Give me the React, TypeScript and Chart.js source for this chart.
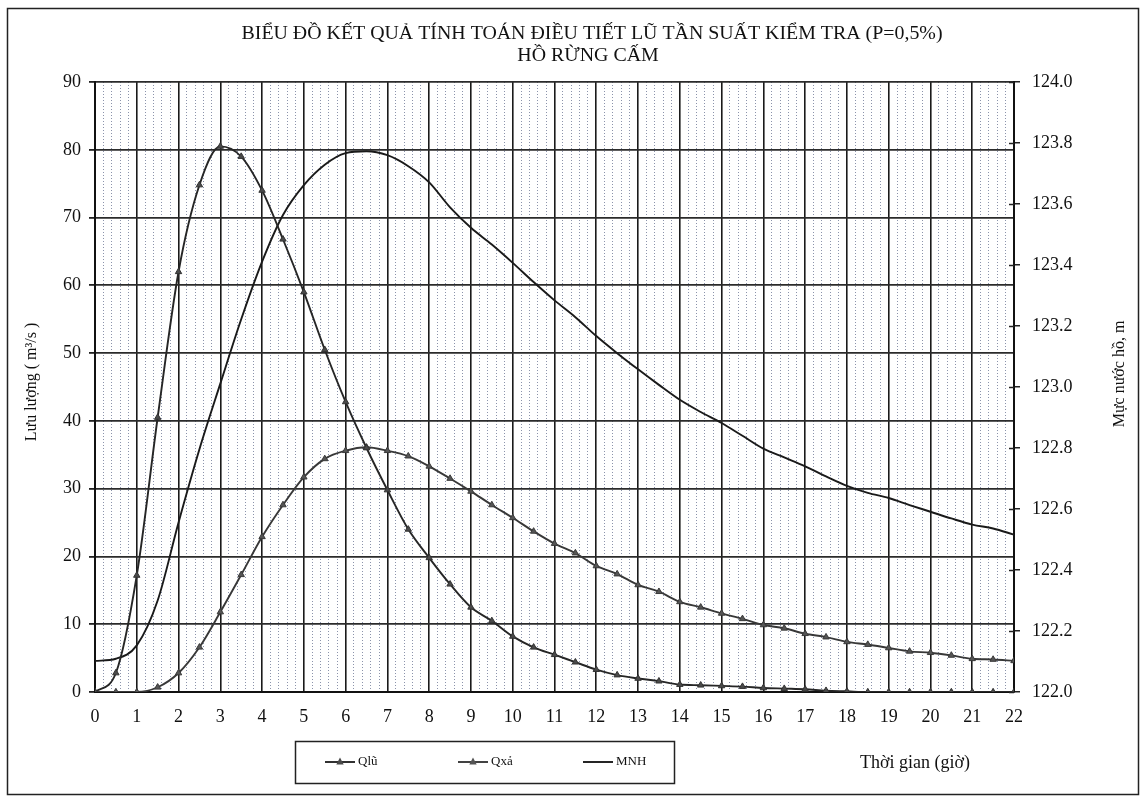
import React, { useEffect, useRef } from 'react';
import { Chart, registerables } from 'chart.js';

Chart.register(...registerables);

// ---- data (time in hours, flows in m3/s, water level in m) ----
const TIMES = [
  0, 0.5, 1, 1.5, 2, 2.5, 3, 3.5, 4, 4.5, 5, 5.5, 6, 6.5, 7, 7.5, 8, 8.5, 9, 9.5, 10, 10.5,
  11, 11.5, 12, 12.5, 13, 13.5, 14, 14.5, 15, 15.5, 16, 16.5, 17, 17.5, 18, 18.5, 19, 19.5,
  20, 20.5, 21, 21.5, 22,
];

const Q_LU = [
  0, 2.8, 17.2, 40.5, 62, 74.8, 80.5, 79, 74, 66.8, 59, 50.5, 42.8, 36, 29.8, 24, 19.8, 15.9,
  12.5, 10.5, 8.2, 6.6, 5.5, 4.4, 3.3, 2.5, 2.0, 1.6, 1.1, 1.0, 0.9, 0.8, 0.6, 0.5, 0.4, 0.2,
  0.1, 0, 0, 0, 0, 0, 0, 0, 0,
];

const Q_XA = [
  0, 0, 0, 0.7, 2.8, 6.6, 11.8, 17.3, 22.9, 27.6, 31.7, 34.4, 35.6, 36.1, 35.6, 34.8, 33.3,
  31.5, 29.6, 27.6, 25.7, 23.7, 21.9, 20.5, 18.6, 17.4, 15.8, 14.8, 13.3, 12.5, 11.6, 10.8,
  9.9, 9.4, 8.6, 8.1, 7.4, 7.0, 6.5, 6.0, 5.8, 5.4, 4.9, 4.8, 4.6,
];

const MNH = [
  122.102, 122.109, 122.153, 122.3, 122.556, 122.796, 123.011, 123.222, 123.411, 123.564,
  123.662, 123.729, 123.767, 123.773, 123.76, 123.724, 123.671, 123.589, 123.522, 123.467,
  123.407, 123.344, 123.284, 123.229, 123.167, 123.111, 123.058, 123.007, 122.958, 122.918,
  122.882, 122.84, 122.798, 122.769, 122.74, 122.707, 122.676, 122.653, 122.636, 122.613,
  122.591, 122.569, 122.549, 122.536, 122.516,
];

const SERIES_NAMES = ['Qlũ', 'Qxả', 'MNH'];
const TITLE_LINES = [
  'BIỂU ĐỒ KẾT QUẢ TÍNH TOÁN ĐIỀU TIẾT LŨ TẦN SUẤT KIỂM TRA (P=0,5%)',
  'HỒ RỪNG CẤM',
];
const Y_LEFT_TITLE = 'Lưu lượng ( m³/s )';
const Y_RIGHT_TITLE = 'Mực nước hồ, m';
const X_TITLE = 'Thời gian (giờ)';

const SERIF = '"Liberation Serif", "Times New Roman", serif';

const decorPlugin = {
  id: 'decor',
  beforeDraw(chart: any) {
    const ctx = chart.ctx;
    ctx.save();
    ctx.fillStyle = '#ffffff';
    ctx.fillRect(0, 0, chart.width, chart.height);
    ctx.restore();
  },
  afterDraw(chart: any) {
    const ctx = chart.ctx;
    ctx.save();
    // outer frame
    ctx.strokeStyle = '#222';
    ctx.lineWidth = 1.5;
    ctx.strokeRect(7.5, 8.5, 1131, 786);

    // inner half of the right-axis tick marks (they cross the axis)
    const yR = chart.scales.yR;
    ctx.strokeStyle = '#222';
    ctx.lineWidth = 1.5;
    yR.ticks.forEach((t: any) => {
      const y = Math.round(yR.getPixelForValue(t.value)) + 0.5;
      ctx.beginPath();
      ctx.moveTo(yR.left - 5, y);
      ctx.lineTo(yR.left, y);
      ctx.stroke();
    });

    // titles (condensed serif)
    ctx.fillStyle = '#111';
    ctx.font = `18px ${SERIF}`;
    ctx.textAlign = 'center';
    ctx.textBaseline = 'middle';
    const w1 = ctx.measureText(TITLE_LINES[0]).width;
    const sx = 701 / w1;
    ctx.save();
    ctx.translate(592, 34);
    ctx.scale(sx, 1);
    ctx.fillText(TITLE_LINES[0], 0, 0);
    ctx.restore();
    ctx.save();
    ctx.translate(588, 56);
    ctx.scale(sx, 1);
    ctx.fillText(TITLE_LINES[1], 0, 0);
    ctx.restore();

    // axis titles
    ctx.font = `16px ${SERIF}`;
    ctx.save();
    ctx.translate(32, 382);
    ctx.rotate(-Math.PI / 2);
    ctx.fillText(Y_LEFT_TITLE, 0, 0);
    ctx.restore();
    ctx.save();
    ctx.translate(1120, 374);
    ctx.rotate(-Math.PI / 2);
    ctx.fillText(Y_RIGHT_TITLE, 0, 0);
    ctx.restore();

    ctx.font = `18px ${SERIF}`;
    ctx.textAlign = 'left';
    ctx.fillText(X_TITLE, 860, 763);

    // legend box
    ctx.strokeStyle = '#222';
    ctx.lineWidth = 1.5;
    ctx.strokeRect(295.5, 741.5, 379, 42);
    const starts = [325, 458, 583];
    const yL = 762;
    ctx.font = `13px ${SERIF}`;
    chart.data.datasets.forEach((ds: any, i: number) => {
      const x0 = starts[i];
      ctx.strokeStyle = ds.borderColor;
      ctx.lineWidth = ds.borderWidth;
      ctx.beginPath();
      ctx.moveTo(x0, yL);
      ctx.lineTo(x0 + 30, yL);
      ctx.stroke();
      if (ds.pointRadius > 0) {
        const r = ds.pointRadius;
        const cx = x0 + 15;
        ctx.fillStyle = ds.pointBackgroundColor;
        ctx.beginPath();
        ctx.moveTo(cx, yL - r * 1.2);
        ctx.lineTo(cx - r, yL + r * 0.65);
        ctx.lineTo(cx + r, yL + r * 0.65);
        ctx.closePath();
        ctx.fill();
      }
      ctx.fillStyle = '#111';
      ctx.fillText(ds.label, x0 + 33, yL);
    });
    ctx.restore();
  },
};

export default function App() {
  const canvasRef = useRef<HTMLCanvasElement | null>(null);

  useEffect(() => {
    const canvas = canvasRef.current;
    if (!canvas) return;
    const pts = (vals: number[]) => TIMES.map((t, i) => ({ x: t, y: vals[i] }));
    const chart = new Chart(canvas, {
      type: 'line',
      data: {
        datasets: [
          {
            label: SERIES_NAMES[0],
            data: pts(Q_LU),
            xAxisID: 'x',
            yAxisID: 'y',
            borderColor: '#262626',
            borderWidth: 1.9,
            pointStyle: 'triangle',
            pointRadius: 3.7,
            pointBackgroundColor: '#4a4a4a',
            pointBorderColor: '#333',
            pointBorderWidth: 1,
            cubicInterpolationMode: 'monotone',
          },
          {
            label: SERIES_NAMES[1],
            data: pts(Q_XA),
            xAxisID: 'x',
            yAxisID: 'y',
            borderColor: '#383838',
            borderWidth: 1.9,
            pointStyle: 'triangle',
            pointRadius: 3.7,
            pointBackgroundColor: '#555',
            pointBorderColor: '#3a3a3a',
            pointBorderWidth: 1,
            cubicInterpolationMode: 'monotone',
          },
          {
            label: SERIES_NAMES[2],
            data: pts(MNH),
            xAxisID: 'x',
            yAxisID: 'yR',
            borderColor: '#1a1a1a',
            borderWidth: 1.9,
            pointRadius: 0,
            pointBackgroundColor: '#1a1a1a',
            cubicInterpolationMode: 'monotone',
          },
        ],
      },
      options: {
        responsive: false,
        animation: false,
        layout: { padding: { top: 82, left: 0, right: 0, bottom: 0 } },
        plugins: {
          legend: { display: false },
          title: { display: false },
          tooltip: { enabled: false },
        },
        scales: {
          x2: {
            type: 'linear',
            position: 'bottom',
            min: 0,
            max: 22,
            afterFit: (s: any) => {
              s.height = 0;
            },
            ticks: { display: false, stepSize: 0.2, autoSkip: false, maxTicksLimit: 500 },
            grid: {
              drawTicks: false,
              lineWidth: 1,
              color: (c: any) =>
                Math.abs(c.tick.value - Math.round(c.tick.value)) < 1e-6
                  ? 'rgba(0,0,0,0)'
                  : 'rgba(110,120,150,0.8)',
            },
            border: { display: false, dash: [1, 2] },
          },
          x: {
            type: 'linear',
            position: 'bottom',
            min: 0,
            max: 22,
            afterFit: (s: any) => {
              s.height = 106;
            },
            ticks: {
              stepSize: 1,
              autoSkip: false,
              maxRotation: 0,
              padding: 14,
              color: '#111',
              font: { family: SERIF, size: 18 },
            },
            grid: { color: '#1a1a1a', lineWidth: 1.6, drawTicks: false },
            border: { display: true, color: '#111', width: 2 },
          },
          y: {
            type: 'linear',
            position: 'left',
            min: 0,
            max: 90,
            afterFit: (s: any) => {
              s.width = 95;
            },
            ticks: {
              stepSize: 10,
              padding: 8,
              color: '#111',
              font: { family: SERIF, size: 18 },
            },
            grid: { color: '#2b2b2b', lineWidth: 1.8, tickLength: 6, tickColor: '#222' },
            border: { display: true, color: '#111', width: 2 },
          },
          yR: {
            type: 'linear',
            position: 'right',
            min: 122,
            max: 124,
            afterFit: (s: any) => {
              s.width = 132;
            },
            ticks: {
              stepSize: 0.2,
              padding: 12,
              color: '#111',
              font: { family: SERIF, size: 18 },
              callback: (v: any) => Number(v).toFixed(1),
            },
            grid: { drawOnChartArea: false, tickLength: 6, tickColor: '#222', lineWidth: 1.5 },
            border: { display: true, color: '#111', width: 2 },
          },
        },
      },
      plugins: [decorPlugin],
    } as any);
    return () => chart.destroy();
  }, []);

  return (
    <div style={{ position: 'absolute', left: 0, top: 0, width: 1146, height: 798, background: '#fff' }}>
      <canvas ref={canvasRef} width={1146} height={798} style={{ display: 'block' }} />
    </div>
  );
}
